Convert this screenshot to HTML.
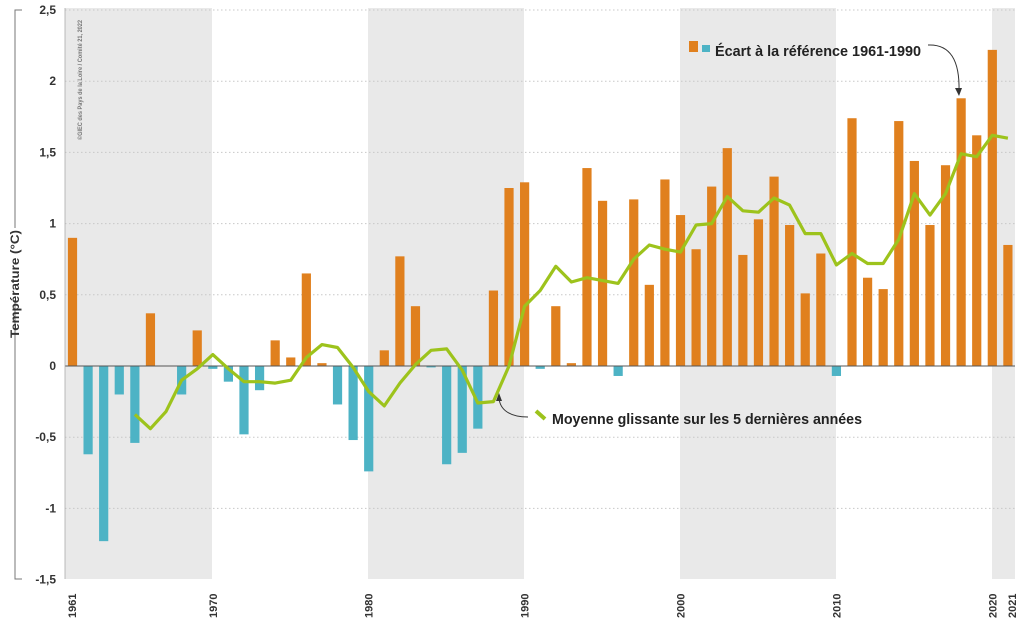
<!DOCTYPE html>
<html><head><meta charset="utf-8"><style>body{margin:0;background:#fff}svg{display:block}text{font-family:"Liberation Sans",sans-serif;font-weight:bold}</style></head><body>
<svg id="s" width="1024" height="624" xmlns="http://www.w3.org/2000/svg">
<g fill="#e9e9e9">
<rect x="65" y="8" width="147" height="571"/>
<rect x="368" y="8" width="156" height="571"/>
<rect x="680" y="8" width="156" height="571"/>
<rect x="992" y="8" width="23" height="571"/>
</g>
<g id="grid" stroke="#c8c8c8" stroke-width="1" stroke-dasharray="1.5,2.5"></g>
<g id="bars"></g>
<line x1="65" y1="366" x2="1015" y2="366" stroke="#555" stroke-width="1"/>
<line x1="65" y1="8" x2="65" y2="579" stroke="#aaa" stroke-width="0.8"/>
<polyline id="avg" fill="none" stroke="#9dc31c" stroke-width="3.2" stroke-linejoin="round"/>
<g id="ylab" font-size="12" fill="#333" text-anchor="end"></g>
<g id="xlab" font-size="11" fill="#333"></g>
<path d="M22,10 H15 V228 M15,300 V579 H22" fill="none" stroke="#777" stroke-width="1"/>
<text transform="translate(19,338) rotate(-90)" font-size="12" fill="#333" textLength="108" lengthAdjust="spacingAndGlyphs">Température (°C)</text>
<text transform="translate(82,140) rotate(-90)" font-size="6.5" fill="#777" textLength="120" lengthAdjust="spacingAndGlyphs">©GIEC des Pays de la Loire / Comité 21, 2022</text>
<rect x="689" y="41" width="9" height="11" fill="#e0801e"/>
<rect x="702" y="45" width="8" height="7" fill="#4db3c5"/>
<text x="715" y="56" font-size="15" fill="#222" textLength="206" lengthAdjust="spacingAndGlyphs">Écart à la référence 1961-1990</text>
<path d="M928,45 C950,44 960,60 959,92" fill="none" stroke="#333" stroke-width="1"/>
<path d="M955,88 L959,96 L962,88 Z" fill="#333"/>
<path d="M536,411 L545,419" stroke="#9dc31c" stroke-width="4"/>
<text x="552" y="424" font-size="15" fill="#222" textLength="310" lengthAdjust="spacingAndGlyphs">Moyenne glissante sur les 5 dernières années</text>
<path d="M528,417 C510,417 500,410 499,398" fill="none" stroke="#333" stroke-width="1"/>
<path d="M496,401 L499,393 L502,401 Z" fill="#333"/>
</svg>
<script>
const NS="http://www.w3.org/2000/svg";
const Y=v=>366-v*142.4, X=y=>72.5+15.59*(y-1961);
function el(t,a,p){const e=document.createElementNS(NS,t);for(const k in a)e.setAttribute(k,a[k]);document.getElementById(p).appendChild(e);return e;}
const labs=["2,5","2","1,5","1","0,5","0","-0,5","-1","-1,5"];
labs.forEach((l,i)=>{const v=2.5-i*0.5;if(v!==0&&v!==-1.5)el("line",{x1:65,x2:1015,y1:Y(v),y2:Y(v)},"grid");const t=el("text",{x:56,y:Y(v)+4},"ylab");t.textContent=l;});
const d=[0.9,-0.62,-1.23,-0.2,-0.54,0.37,0,-0.2,0.25,-0.02,-0.11,-0.48,-0.17,0.18,0.06,0.65,0.02,-0.27,-0.52,-0.74,0.11,0.77,0.42,-0.01,-0.69,-0.61,-0.44,0.53,1.25,1.29,-0.02,0.42,0.02,1.39,1.16,-0.07,1.17,0.57,1.31,1.06,0.82,1.26,1.53,0.78,1.03,1.33,0.99,0.51,0.79,-0.07,1.74,0.62,0.54,1.72,1.44,0.99,1.41,1.88,1.62,2.22,0.85];
d.forEach((v,i)=>{if(!v)return;const x=X(1961+i)-4.6;el("rect",{x:x,width:9.2,y:Math.min(Y(v),366),height:Math.abs(v)*142.4,fill:v>0?"#e0801e":"#4db3c5"},"bars");});
const m=[-0.34,-0.44,-0.32,-0.1,-0.02,0.08,-0.02,-0.11,-0.11,-0.12,-0.1,0.06,0.15,0.13,-0.01,-0.18,-0.28,-0.12,0.01,0.11,0.12,-0.03,-0.26,-0.25,0.0,0.42,0.53,0.7,0.59,0.62,0.6,0.58,0.75,0.85,0.82,0.8,0.99,1.0,1.19,1.09,1.08,1.18,1.13,0.93,0.93,0.71,0.79,0.72,0.72,0.89,1.21,1.06,1.21,1.49,1.47,1.62,1.6];
document.getElementById("avg").setAttribute("points",m.map((v,i)=>X(1965+i).toFixed(1)+","+Y(v).toFixed(1)).join(" "));
[1961,1970,1980,1990,2000,2010,2020,2021].forEach(y=>{const x=y==1961?72:y==2021?1012:X(y);const t=el("text",{transform:`translate(${x+4},${618}) rotate(-90)`},"xlab");t.textContent=y;});
</script>
</body></html>
